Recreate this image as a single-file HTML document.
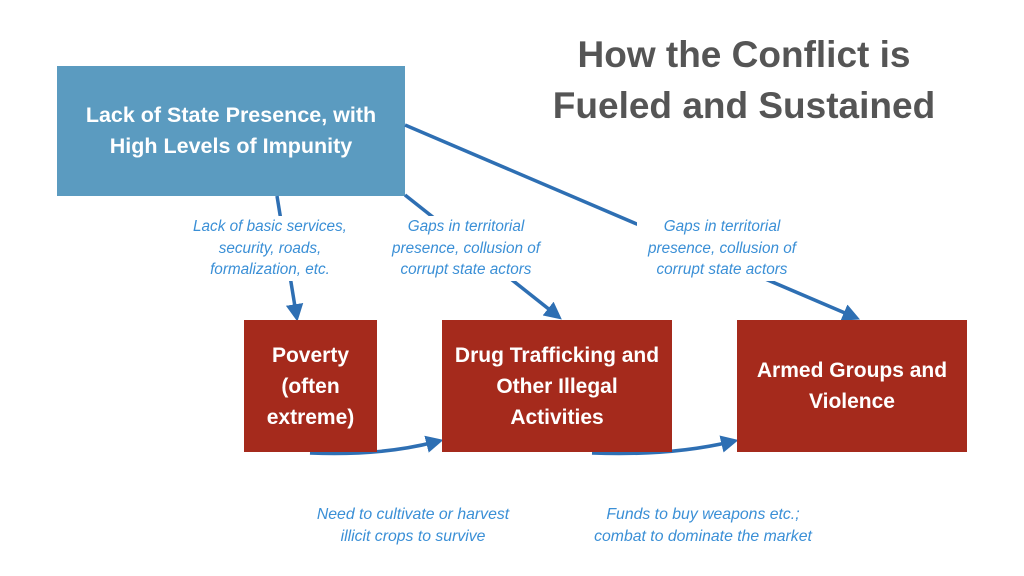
<!DOCTYPE html>
<html><head><style>
body{margin:0;width:1024px;height:576px;background:#fff;position:relative;overflow:hidden;font-family:"Liberation Sans",sans-serif}
.b{position:absolute;display:flex;align-items:center;justify-content:center;text-align:center;color:#fff;font-weight:bold}
.r{background:#a52a1c;font-size:21px;line-height:31px;top:320px;height:132px}
.l{position:absolute;color:#3a8fd6;font-style:italic;font-size:15.3px;line-height:21.5px;text-align:center;background:#fff}
</style></head><body>
<div style="position:absolute;left:480px;width:528px;top:29px;text-align:center;font-size:37px;line-height:51px;color:#555;font-weight:bold">How the Conflict is<br>Fueled and Sustained</div>
<div class="b" style="left:57px;top:66px;width:348px;height:130px;background:#5b9bc0;font-size:21.5px;line-height:31px">Lack of State Presence, with<br>High Levels of Impunity</div>
<svg width="1024" height="576" style="position:absolute;left:0;top:0">
<defs><marker id="a" markerWidth="5" markerHeight="5" refX="2.5" refY="2.5" orient="auto" markerUnits="strokeWidth"><path d="M0,0 L5,2.5 L0,5 Z" fill="#2e6fb3"/></marker></defs>
<g stroke="#2e6fb3" stroke-width="3.5" fill="none" marker-end="url(#a)">
<line x1="277" y1="196" x2="296" y2="313"/>
<line x1="405" y1="195" x2="555" y2="314"/>
<line x1="405" y1="125" x2="852" y2="316"/>
<path d="M310,453 Q380,456 435,442"/>
<path d="M592,453 Q670,456 730,442"/>
</g></svg>
<div class="l" style="left:180px;top:216px;width:180px">Lack of basic services,<br>security, roads,<br>formalization, etc.</div>
<div class="l" style="left:381px;top:216px;width:170px">Gaps in territorial<br>presence, collusion of<br>corrupt state actors</div>
<div class="l" style="left:637px;top:216px;width:170px">Gaps in territorial<br>presence, collusion of<br>corrupt state actors</div>
<div class="b r" style="left:244px;width:133px">Poverty<br>(often<br>extreme)</div>
<div class="b r" style="left:442px;width:230px">Drug Trafficking and<br>Other Illegal<br>Activities</div>
<div class="b r" style="left:737px;width:230px">Armed Groups and<br>Violence</div>
<div class="l" style="left:293px;top:504px;width:240px;font-size:15.8px">Need to cultivate or harvest<br>illicit crops to survive</div>
<div class="l" style="left:573px;top:504px;width:260px;font-size:15.8px">Funds to buy weapons etc.;<br>combat to dominate the market</div>
</body></html>
